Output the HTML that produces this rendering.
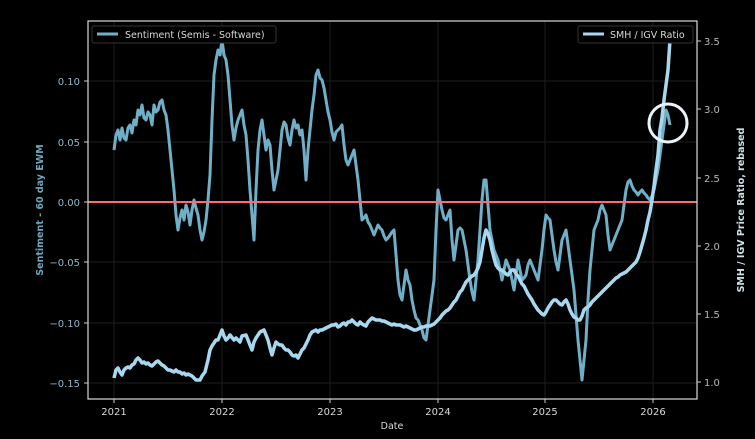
<!DOCTYPE html>
<html><head><meta charset="utf-8"><style>
html,body{margin:0;padding:0;background:#000;width:755px;height:439px;overflow:hidden}
text{font-family:"DejaVu Sans","Liberation Sans",sans-serif}
</style></head><body>
<svg width="755" height="439" viewBox="0 0 755 439" xmlns="http://www.w3.org/2000/svg">
<rect width="755" height="439" fill="#000"/>
<g stroke="#1e1e1e" stroke-width="1">
<line x1="114" y1="21" x2="114" y2="399"/><line x1="222" y1="21" x2="222" y2="399"/><line x1="330" y1="21" x2="330" y2="399"/><line x1="438" y1="21" x2="438" y2="399"/><line x1="545" y1="21" x2="545" y2="399"/><line x1="653" y1="21" x2="653" y2="399"/>
<line x1="88" y1="81" x2="697" y2="81"/><line x1="88" y1="142" x2="697" y2="142"/><line x1="88" y1="262" x2="697" y2="262"/><line x1="88" y1="323" x2="697" y2="323"/><line x1="88" y1="383" x2="697" y2="383"/>
</g>
<polyline fill="none" stroke="#6fb0c8" stroke-width="3" stroke-linejoin="round" points="114,150 116,135 118,130 120,140 122,128 124,138 126,140 128,128 130,125 132,133 134,120 136,125 138,110 140,115 142,105 144,118 146,120 148,112 150,115 152,125 154,105 156,112 158,110 160,102 162,100 164,110 166,115 168,130 170,150 174,190 176,215 178,230 180,218 182,210 184,220 186,205 188,212 190,225 192,210 194,200 196,208 198,215 200,230 202,240 204,232 206,220 208,200 210,175 212,120 214,75 216,60 218,50 220,55 222,40 224,55 226,60 228,75 230,100 232,125 234,140 236,128 238,120 240,115 242,110 244,125 246,135 248,160 250,190 252,215 254,240 256,190 258,150 260,130 262,120 264,135 266,150 268,140 270,145 272,170 274,190 276,180 278,170 280,150 282,130 284,122 286,125 288,138 290,145 292,130 294,120 296,128 298,125 300,135 302,130 304,150 306,180 308,150 310,130 312,110 314,95 316,75 318,70 320,78 322,80 324,88 326,100 328,112 330,120 332,132 334,140 336,132 338,130 340,128 342,125 344,145 346,160 348,165 350,160 352,155 354,150 356,165 358,180 360,200 362,220 364,218 366,215 368,222 370,225 372,230 374,235 376,230 378,225 380,228 382,230 384,236 386,240 388,238 390,235 392,232 394,230 396,255 398,280 400,295 402,300 404,285 406,270 408,280 410,285 412,300 414,310 416,318 418,320 420,325 422,330 424,338 426,340 428,325 430,310 432,295 434,280 436,230 438,190 440,200 442,210 444,218 446,220 448,215 450,210 452,240 454,260 456,245 458,230 460,228 462,230 464,240 466,250 468,265 470,280 472,292 474,300 476,280 478,260 480,230 482,200 484,180 486,180 488,205 490,230 492,240 494,250 496,255 498,260 500,270 502,280 504,270 506,260 508,265 510,270 512,280 514,290 516,275 518,260 520,270 522,280 524,278 526,275 528,265 530,260 532,265 534,270 536,275 538,280 540,265 542,250 544,230 546,215 548,218 550,220 552,235 554,250 556,262 558,270 560,255 562,240 564,235 566,230 568,245 570,260 572,275 574,290 576,315 578,340 580,360 582,380 584,360 586,340 588,300 590,270 592,250 594,230 596,225 598,220 600,210 602,205 604,210 606,215 608,235 610,250 612,245 614,240 616,235 618,230 620,225 622,220 624,205 626,190 628,182 630,180 632,186 634,190 636,192 638,195 640,192 642,190 644,193 646,195 648,198 650,200 652,196 654,190 656,180 658,170 660,155 662,140 664,125 666,110 668,115 670,125"/>
<line x1="88" y1="202" x2="697" y2="202" stroke="#ff6b6b" stroke-width="2"/>
<polyline fill="none" stroke="#a8d8f0" stroke-width="3.5" stroke-linejoin="round" points="114,378 116,370 118,368 120,372 122,375 124,370 126,368 128,367 130,368 132,365 134,364 136,360 138,358 140,360 142,363 144,362 146,364 148,363 150,365 152,366 154,364 156,362 158,361 160,363 162,365 164,366 166,368 168,370 170,370 172,371 174,372 176,370 178,372 180,372 182,374 184,373 186,375 188,374 190,375 192,376 194,378 196,380 198,380 200,380 202,376 205,372 208,360 210,350 212,346 214,343 216,340 218,340 220,335 222,330 224,336 226,340 228,338 230,335 234,340 236,338 240,342 242,336 246,335 248,340 250,345 252,350 254,342 256,338 258,335 260,332 262,331 264,330 266,335 268,340 270,348 272,355 274,348 276,342 278,344 280,345 282,345 284,348 286,350 288,350 290,352 292,355 294,356 296,355 298,358 300,354 302,350 304,348 306,344 308,340 310,335 312,332 314,331 316,330 318,332 320,330 322,330 324,329 326,328 328,327 330,326 332,325 334,325 336,324 338,327 340,326 342,324 344,323 346,325 348,322 350,322 352,320 354,322 356,324 358,325 360,322 362,324 366,326 368,322 370,320 372,318 374,319 376,320 378,320 380,320 382,321 384,321 386,322 388,323 390,324 392,325 394,324 396,325 400,325 402,326 404,327 406,326 408,327 410,328 412,329 414,330 416,330 418,329 420,328 422,327 424,327 426,326 428,326 430,326 432,325 434,324 436,322 438,320 440,318 442,315 444,313 446,311 448,310 450,308 452,305 454,302 456,300 458,296 460,292 462,290 464,286 466,282 468,280 470,278 472,276 474,275 476,272 478,268 480,262 482,250 484,238 486,230 488,234 490,240 492,250 494,258 496,265 498,268 500,270 502,270 504,272 506,274 508,275 510,272 512,270 514,270 516,274 518,276 520,280 522,284 524,286 526,290 528,294 530,297 532,300 534,304 536,307 538,310 540,312 542,314 544,315 546,312 548,308 550,305 552,302 554,300 556,300 558,302 560,304 562,305 564,302 566,300 568,304 570,310 572,314 574,317 576,318 578,320 580,320 582,316 584,310 586,308 588,307 590,305 592,302 594,300 596,298 598,296 600,294 602,292 604,290 606,288 608,286 610,284 612,282 614,280 616,278 618,277 620,275 622,274 624,273 626,272 628,270 630,268 632,266 634,264 636,262 638,258 640,252 642,245 644,238 646,230 648,220 650,212 652,200 654,186 656,170 658,155 660,130 662,118 664,100 666,85 668,70 669,55 670,40"/>
<circle cx="668" cy="123" r="19" fill="none" stroke="#e8f4f8" stroke-width="3"/>
<rect x="88" y="21" width="609" height="378" fill="none" stroke="#d8d8d8" stroke-width="1.2"/>
<g fill="#8fb8c8" font-size="10" text-anchor="end">
<text x="80" y="85">0.10</text><text x="80" y="146">0.05</text><text x="80" y="206">0.00</text><text x="80" y="266">−0.05</text><text x="80" y="327">−0.10</text><text x="80" y="387">−0.15</text>
</g>
<g stroke="#ccc"><line x1="84" y1="81" x2="88" y2="81"/><line x1="84" y1="142" x2="88" y2="142"/><line x1="84" y1="202" x2="88" y2="202"/><line x1="84" y1="262" x2="88" y2="262"/><line x1="84" y1="323" x2="88" y2="323"/><line x1="84" y1="383" x2="88" y2="383"/>
<line x1="697" y1="41" x2="701" y2="41"/><line x1="697" y1="109" x2="701" y2="109"/><line x1="697" y1="178" x2="701" y2="178"/><line x1="697" y1="246" x2="701" y2="246"/><line x1="697" y1="314" x2="701" y2="314"/><line x1="697" y1="382" x2="701" y2="382"/>
<line x1="114" y1="399" x2="114" y2="403"/><line x1="222" y1="399" x2="222" y2="403"/><line x1="330" y1="399" x2="330" y2="403"/><line x1="438" y1="399" x2="438" y2="403"/><line x1="545" y1="399" x2="545" y2="403"/><line x1="653" y1="399" x2="653" y2="403"/></g>
<g fill="#b8b8b8" font-size="10">
<text x="704" y="45">3.5</text><text x="704" y="113">3.0</text><text x="704" y="182">2.5</text><text x="704" y="250">2.0</text><text x="704" y="318">1.5</text><text x="704" y="386">1.0</text>
</g>
<g fill="#d8d8d8" font-size="10" text-anchor="middle">
<text x="114" y="415">2021</text><text x="222" y="415">2022</text><text x="330" y="415">2023</text><text x="438" y="415">2024</text><text x="545" y="415">2025</text><text x="653" y="415">2026</text>
<text x="392" y="429" font-size="9.5">Date</text>
</g>
<text transform="translate(43,210) rotate(-90)" text-anchor="middle" fill="#6ea6bf" font-size="9.5" font-weight="bold">Sentiment - 60 day EWM</text>
<text transform="translate(744,210) rotate(-90)" text-anchor="middle" fill="#cfe0e8" font-size="9.5" font-weight="bold">SMH / IGV Price Ratio, rebased</text>
<rect x="92" y="26" width="184" height="17" fill="#000" stroke="#333" rx="2"/>
<line x1="97" y1="34" x2="118" y2="34" stroke="#6fb0c8" stroke-width="3"/>
<text x="125" y="38" fill="#d8d8d8" font-size="9.5">Sentiment (Semis - Software)</text>
<rect x="578" y="26" width="115" height="17" fill="#000" stroke="#333" rx="2"/>
<line x1="583" y1="34" x2="604" y2="34" stroke="#a8d8f0" stroke-width="3"/>
<text x="610" y="38" fill="#d8d8d8" font-size="9.5">SMH / IGV Ratio</text>
</svg>
</body></html>
